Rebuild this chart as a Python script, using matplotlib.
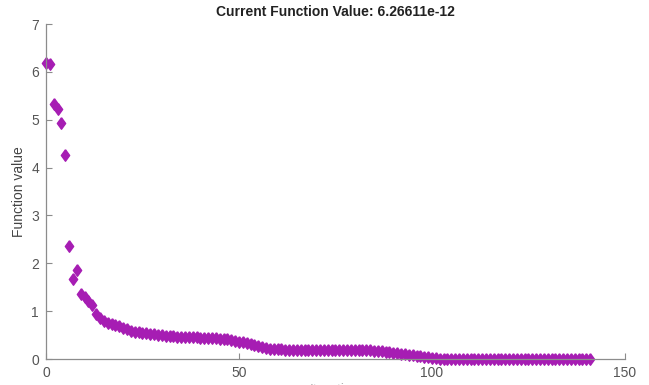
import matplotlib.pyplot as plt

plt.rcParams['font.family'] = ['Liberation Sans', 'DejaVu Sans']

# function value at each iteration
iteration = list(range(142))
fval = [
    6.18, 6.17, 5.33, 5.22, 4.93, 4.27, 2.37, 1.67, 1.87, 1.36,
    1.30, 1.22, 1.13, 0.95, 0.86, 0.80, 0.76, 0.73, 0.71, 0.68,
    0.65, 0.62, 0.59, 0.57, 0.56, 0.55, 0.54, 0.53, 0.52, 0.51,
    0.50, 0.49, 0.48, 0.48, 0.47, 0.47, 0.46, 0.46, 0.45, 0.45,
    0.44, 0.44, 0.44, 0.43, 0.43, 0.42, 0.42, 0.41, 0.40, 0.38,
    0.36, 0.35, 0.33, 0.32, 0.30, 0.28, 0.25, 0.23, 0.21, 0.20,
    0.20, 0.20, 0.19, 0.19, 0.19, 0.19, 0.19, 0.19, 0.19, 0.19,
    0.19, 0.19, 0.19, 0.19, 0.19, 0.19, 0.19, 0.19, 0.19, 0.19,
    0.19, 0.18, 0.18, 0.18, 0.18, 0.17, 0.17, 0.16, 0.15, 0.14,
    0.13, 0.12, 0.11, 0.10, 0.09, 0.08, 0.07, 0.06, 0.05, 0.04,
    0.03, 0.02, 0.01, 0.00, 0.00, 0.00, 0.00, 0.00, 0.00, 0.00,
    0.00, 0.00, 0.00, 0.00, 0.00, 0.00, 0.00, 0.00, 0.00, 0.00,
    0.00, 0.00, 0.00, 0.00, 0.00, 0.00, 0.00, 0.00, 0.00, 0.00,
    0.00, 0.00, 0.00, 0.00, 0.00, 0.00, 0.00, 0.00, 0.00, 0.00,
    0.00, 0.00,
]
title = 'Current Function Value: 6.26611e-12'
xticks = [0, 50, 100, 150]
yticks = [0, 1, 2, 3, 4, 5, 6, 7]

fig = plt.figure(figsize=(6.49, 3.85), dpi=100)
ax = fig.add_axes([0.0709, 0.0675, 0.892, 0.870])

# MATLAB-like diamond, a bit taller than wide
diamond = [(0, 1), (0.72, 0), (0, -1), (-0.72, 0), (0, 1)]
ax.plot(iteration, fval, linestyle='none', marker=diamond, markersize=8.3,
        color='#a61db3', markeredgecolor='#a61db3', clip_on=False)

ax.set_xlim(0, 150)
ax.set_ylim(0, 7)
ax.set_xticks(xticks)
ax.set_yticks(yticks)

gray = '#8c8c8c'
for s in ['top', 'right']:
    ax.spines[s].set_visible(False)
for s in ['left', 'bottom']:
    ax.spines[s].set_color(gray)
    ax.spines[s].set_linewidth(0.9)
ax.tick_params(direction='in', length=4, width=0.8, color=gray,
               labelcolor='#555555', labelsize=10, pad=5)

ax.set_ylabel('Function value', fontsize=10, color='#444444', labelpad=4)
# the x label sits mostly below the picture's bottom edge, as in the original
ax.set_xlabel('Iteration', fontsize=10, color='#b0b0b0', labelpad=2)
ax.set_title(title, fontsize=10, fontweight='bold', color='#222222', pad=6)

fig.savefig('out.png', dpi=100)
